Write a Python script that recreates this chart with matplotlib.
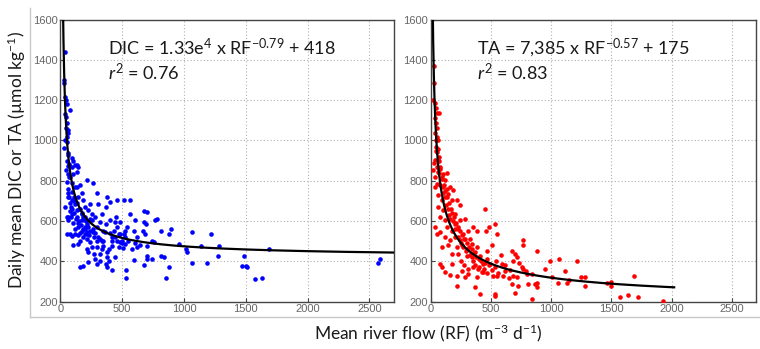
import numpy as np
import matplotlib
matplotlib.use('Agg')
import matplotlib.pyplot as plt
from matplotlib.lines import Line2D
from matplotlib import font_manager

plt.rcParams['font.family'] = ['Lato', 'DejaVu Sans']
plt.rcParams['mathtext.fontset'] = 'custom'
plt.rcParams['mathtext.rm'] = 'Lato'
plt.rcParams['mathtext.it'] = 'Lato:italic'

# DIC panel (blue): river flow vs daily mean DIC
dic_rf = [35, 27, 29, 35, 41, 49, 76, 44, 49, 57, 63, 49, 35, 30, 63, 90,
          63, 90, 117, 144, 103, 76, 130, 49, 90, 117, 158, 217, 261, 63, 90,
          117, 144, 171, 185, 198, 35, 63, 49, 90, 130, 171, 226, 253, 226,
          198, 171, 144, 117, 90, 158, 212, 266, 294, 321, 334, 370, 402, 375,
          294, 307, 239, 253, 280, 198, 144, 212, 226, 253, 226, 280, 321, 348,
          389, 416, 443, 430, 457, 484, 470, 511, 389, 375, 334, 375, 416, 321,
          294, 158, 185, 98, 497, 505, 524, 533, 533, 457, 511, 560, 565, 606,
          592, 524, 538, 620, 579, 592, 620, 668, 674, 696, 701, 679, 688, 701,
          701, 701, 679, 742, 742, 756, 769, 783, 810, 810, 837, 851, 878, 878,
          892, 960, 1014, 1027, 1068, 1068, 1136, 1217, 1190, 1272, 1285, 1467,
          1484, 1503, 1508, 1576, 1633, 1688, 2571, 2590,
          49, 63, 76, 82, 109, 130, 90, 63, 68, 103, 136, 44, 49, 57, 158, 185,
          171, 212, 239, 198, 217, 180, 275, 294, 348, 370, 402, 443, 452, 416,
          484, 484, 470, 443, 370, 375, 334, 275, 294, 239, 130,
          60, 70, 80, 95, 110, 125, 140, 150, 165, 180, 200, 215, 230, 160, 140,
          120, 100, 85, 75, 110, 130, 150, 175, 195, 210, 240, 260, 280, 300,
          320, 345, 360, 400, 420, 460, 500, 520, 550, 600, 640,
          40, 45, 52, 58, 66, 72]
dic_val = [1440, 1300, 1285, 1215, 1200, 1180, 1150, 1117, 1085, 1050, 1035,
           1015, 1000, 965, 940, 915, 873, 868, 876, 868, 835, 818, 843, 795,
           787, 770, 778, 803, 787, 737, 703, 687, 720, 737, 703, 670, 670, 620,
           620, 637, 653, 637, 653, 603, 570, 537, 553, 570, 537, 528, 503, 512,
           545, 570, 595, 637, 670, 694, 720, 737, 687, 687, 637, 620, 603, 487,
           462, 445, 470, 395, 412, 437, 478, 462, 478, 520, 553, 570, 595, 537,
           537, 403, 445, 503, 370, 357, 403, 387, 370, 378, 483, 503, 467, 487,
           357, 320, 705, 705, 703, 637, 603, 553, 553, 570, 520, 462, 408, 470,
           553, 595, 587, 645, 650, 537, 478, 428, 412, 382, 412, 503, 495, 603,
           612, 553, 428, 420, 320, 370, 537, 562, 487, 462, 445, 545, 392, 478,
           537, 390, 428, 478, 378, 428, 378, 370, 312, 320, 462, 390, 412,
           537, 603, 537, 670, 720, 770, 745, 835, 885, 900, 876, 851, 900, 720,
           662, 620, 603, 587, 553, 570, 537, 520, 520, 503, 553, 587, 603, 595,
           620, 520, 537, 495, 470, 420, 387, 420, 462, 437, 470, 495, 620,
           760, 720, 690, 660, 640, 610, 590, 600, 580, 560, 560, 545, 530, 540,
           530, 560, 590, 620, 650, 700, 690, 660, 640, 620, 600, 610, 560, 540,
           520, 510, 500, 545, 540, 500, 500, 490, 520, 500, 490, 480,
           1130, 1060, 990, 930, 880, 820]

# TA panel (red): river flow vs daily mean TA
ta_rf = [30, 28, 22, 36, 44, 50, 72, 36, 44, 55, 36, 50, 64, 44, 55, 72, 36,
         28, 50, 77, 22, 64, 105, 133, 36, 91, 119, 50, 77, 36, 105, 133, 160,
         188, 146, 64, 91, 119, 174, 215, 240, 64, 105, 146, 202, 77, 119, 160,
         202, 243, 285, 36, 50, 77, 133, 174, 229, 271, 312, 354, 382, 119, 160,
         202, 243, 285, 326, 91, 146, 215, 257, 298, 340, 382, 174, 229, 298,
         368, 409, 464, 506, 547, 533, 458, 486, 450, 77, 91, 160, 215, 257,
         285, 312, 354, 382, 423, 436, 492, 533, 547, 588, 616, 671, 699, 713,
         685, 754, 768, 768, 768, 685, 713, 671, 727, 699, 533, 533, 409, 368,
         215, 174, 119, 796, 809, 865, 878, 884, 837, 878, 948, 989, 1003, 1058,
         1066, 1113, 1127, 1149, 1210, 1251, 1279, 1279, 1459, 1500, 1500, 1569,
         1638, 1685, 1721, 1930, 840,
         60, 70, 80, 95, 110, 120, 135, 150, 165, 180, 195, 210, 225, 240, 260,
         280, 300, 320, 340, 360, 380, 400, 420, 450, 480, 100, 130, 155, 185,
         205, 230, 250, 270, 295, 330, 350, 370, 390, 440, 470, 520, 560, 600,
         650, 40, 48, 58, 66,
         310, 345, 400, 430, 470, 510, 545, 580, 620, 660, 730, 790, 250, 280]
ta_val = [1367, 1284, 1201, 1185, 1160, 1135, 1135, 1110, 1085, 1060, 1035,
          1019, 1002, 969, 944, 919, 902, 886, 869, 869, 853, 844, 836, 839,
          819, 811, 803, 786, 778, 770, 770, 761, 770, 753, 736, 728, 703, 720,
          703, 706, 678, 670, 653, 661, 637, 620, 603, 612, 587, 603, 612, 570,
          537, 545, 570, 553, 570, 537, 553, 570, 553, 520, 504, 520, 504, 512,
          512, 471, 479, 471, 479, 462, 487, 471, 437, 437, 429, 446, 429, 454,
          479, 537, 587, 553, 570, 661, 387, 371, 334, 329, 354, 321, 337, 371,
          321, 346, 388, 388, 371, 329, 388, 354, 454, 437, 421, 404, 371, 504,
          479, 362, 329, 321, 288, 279, 242, 238, 230, 238, 271, 279, 387, 346,
          338, 288, 288, 275, 291, 338, 454, 362, 404, 325, 291, 412, 350, 291,
          308, 404, 321, 325, 279, 291, 300, 279, 225, 233, 329, 225, 203, 215,
          960, 900, 860, 820, 780, 750, 720, 690, 660, 640, 620, 590, 560, 550,
          530, 510, 490, 470, 460, 440, 420, 410, 400, 390, 380, 740, 680, 630,
          600, 560, 520, 490, 470, 450, 430, 400, 380, 360, 360, 340, 330, 340,
          330, 320, 1000, 950, 905, 840,
          360, 420, 370, 345, 410, 355, 400, 430, 380, 355, 390, 350, 400, 380]

# fitted curves, parameters as printed on the chart
dic_a, dic_b, dic_c = 1.33e4, -0.79, 418
ta_a, ta_b, ta_c = 7385, -0.57, 175

xticks = [0, 500, 1000, 1500, 2000, 2500]
yticks = [200, 400, 600, 800, 1000, 1200, 1400, 1600]

names = {f.name for f in font_manager.fontManager.ttflist}
tick_font = 'Liberation Sans Narrow' if 'Liberation Sans Narrow' in names else 'Liberation Sans'

fig = plt.figure(figsize=(7.6, 3.49), dpi=100)

# light grey figure frame
frame_col = '#c8c8c8'
fig.add_artist(Line2D([30 / 760, 30 / 760], [1 - 317 / 349, 1 - 8 / 349],
                      transform=fig.transFigure, color=frame_col, lw=1))
fig.add_artist(Line2D([30 / 760, 1.0], [1 - 317 / 349, 1 - 317 / 349],
                      transform=fig.transFigure, color=frame_col, lw=1))

ax1 = fig.add_axes([0.0796, 0.1355, 0.4388, 0.8086])
ax2 = fig.add_axes([0.5667, 0.1355, 0.4282, 0.8086])

panels = [
    (ax1, dic_rf, dic_val, '#0000ff', (dic_a, dic_b, dic_c), 2700,
     r'DIC = 1.33e$^{4}$ x RF$^{-0.79}$ + 418', r'$\mathit{r}^{2}$ = 0.76'),
    (ax2, ta_rf, ta_val, '#ff0000', (ta_a, ta_b, ta_c), 2020,
     r'TA = 7,385 x RF$^{-0.57}$ + 175', r'$\mathit{r}^{2}$ = 0.83'),
]

for ax, xs, ys, col, (a, b, c), xend, eq, r2 in panels:
    ax.plot(xs, ys, 'o', color=col, ms=3.3, mec=col, mew=0, zorder=3)
    xf = np.geomspace(12, xend, 400)
    ax.plot(xf, a * xf ** b + c, color='black', lw=1.6, zorder=4)
    ax.set_xlim(0, 2700)
    ax.set_ylim(200, 1600)
    ax.set_xticks(xticks)
    ax.set_yticks(yticks)
    ax.grid(True, linestyle=(0, (1, 2)), color='#b0b0b0', lw=0.8)
    ax.tick_params(direction='in', labelsize=8, labelcolor='#666666',
                   color='#444444', length=3, pad=2)
    for lab in ax.get_xticklabels() + ax.get_yticklabels():
        lab.set_family(tick_font)
    for s in ax.spines.values():
        s.set_color('#444444')
        s.set_linewidth(1.0)
    ax.text(385, 1459, eq, fontsize=13, va='center', ha='left', color='#1a1a1a')
    ax.text(385, 1335, r2, fontsize=13, va='center', ha='left', color='#1a1a1a')

fig.text(17 / 760, 1 - 160 / 349, u'Daily mean DIC or TA (\u00b5mol kg$^{-1}$)',
         rotation=90, fontsize=12.5, va='center', ha='center', color='#1a1a1a')
fig.text(428 / 760, 1 - 333 / 349, r'Mean river flow (RF) (m$^{-3}$ d$^{-1}$)',
         fontsize=12.5, va='center', ha='center', color='#1a1a1a')

fig.savefig('out.png', dpi=100)
